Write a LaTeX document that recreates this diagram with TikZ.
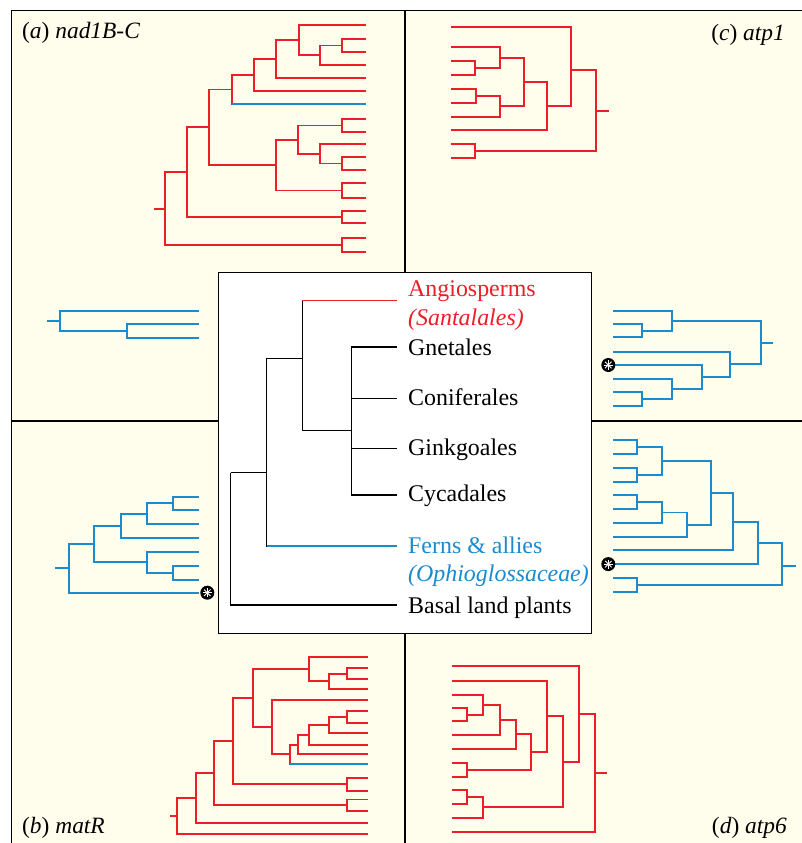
\documentclass[tikz,border=0pt]{standalone}
\usepackage{fontspec}
\setmainfont{Liberation Serif}
\usetikzlibrary{calc}
\definecolor{tred}{RGB}{236,30,40}
\definecolor{tblue}{RGB}{28,139,206}
\definecolor{cream}{RGB}{255,253,235}
\begin{document}
\begin{tikzpicture}[x=1bp,y=-1bp,
  redl/.style={tred,line width=1.9bp},
  bluel/.style={tblue,line width=1.9bp},
  ctree/.style={black,line width=1.5bp},
  clabel/.style={anchor=base west,inner sep=0pt,font=\fontsize{24}{28}\selectfont},
  plabel/.style={inner sep=0pt,font=\fontsize{23.5}{28}\selectfont},
  astmark/.style={circle,fill=black,minimum size=14bp,inner sep=0pt,
    path picture={\foreach \a in {0,45,90,135}
      \draw[white,line width=0.9bp] ($(path picture bounding box.center)+(\a:4.6bp)$) -- ($(path picture bounding box.center)+(\a+180:4.6bp)$);}}
]
\useasboundingbox (0,0) rectangle (802,843);
\fill[white] (0,0) rectangle (802,843);
\fill[cream] (11.5,10.5) rectangle (802,843);
\draw[line width=1.6bp] (11.5,843) -- (11.5,10.5) -- (802,10.5);
\draw[line width=2.2bp] (405,10.5) -- (405,843);
\draw[line width=2.2bp] (11.5,421) -- (802,421);

% ---------- panel labels ----------
\node[plabel,anchor=base west] (la) at (22,38.5) {(\textit{a}) \textit{nad1B-C}};
\node[plabel,anchor=base east] (lc) at (785,40) {(\textit{c}) \textit{atp1}};
\node[plabel,anchor=base west] (lb) at (22,833) {(\textit{b}) \textit{matR}};
\node[plabel,anchor=base east] (ld) at (787,833) {(\textit{d}) \textit{atp6}};

% ---------- tree (a) red ----------
\foreach \n/\y in {1/25,2/39,3/52,4/65,5/78,6/91,7/104,8/119,9/132,10/144,11/157,12/170,13/183,14/198,15/211,16/223,17/238,18/252}
  \coordinate (a\n) at (366,\y);
\coordinate (A1) at (342,45.5);
\coordinate (A2) at (320,55.25);
\coordinate (A3) at (299,40.1);
\coordinate (A4) at (275.7,59);
\coordinate (A5) at (254,75);
\coordinate (A6) at (232,89.5);
\coordinate (A7) at (342,125.5);
\coordinate (A8) at (342,163.5);
\coordinate (A9) at (320,153.75);
\coordinate (A10) at (298,139.6);
\coordinate (A11) at (342,190.5);
\coordinate (A12) at (275.7,165);
\coordinate (A13) at (209,127.3);
\coordinate (A14) at (342,217);
\coordinate (A15) at (187,172.1);
\coordinate (A16) at (342,245);
\coordinate (A17) at (165,208.6);
\coordinate (Ar) at (154,208.6);
\foreach \p/\c in {A1/a2,A1/a3,A2/A1,A2/a4,A3/a1,A3/A2,A4/A3,A4/a5,A5/A4,A5/a6,A6/A5,A6/a7,
  A7/a8,A7/a9,A8/a11,A8/a12,A9/a10,A9/A8,A10/A7,A10/A9,A11/a13,A11/a14,A12/A10,A12/A11,
  A13/A6,A13/A12,A14/a15,A14/a16,A15/A13,A15/A14,A16/a17,A16/a18,A17/A15,A17/A16}
  \draw[redl] (\p) |- (\c);
\draw[redl] (Ar) -- (A17);
\draw[bluel] (A6 |- a7) -- (a7);

% ---------- tree (a) blue ----------
\coordinate (ab1) at (199,310.7);
\coordinate (ab2) at (199,324.3);
\coordinate (ab3) at (199,337.7);
\coordinate (AB1) at (127.3,331);
\coordinate (AB2) at (60.3,320.8);
\coordinate (ABr) at (47.3,320.8);
\foreach \p/\c in {AB1/ab2,AB1/ab3,AB2/ab1,AB2/AB1}
  \draw[bluel] (\p) |- (\c);
\draw[bluel] (ABr) -- (AB2);

% ---------- tree (c) red ----------
\foreach \n/\y in {1/27,2/47.3,3/60.7,4/75,5/88.7,6/102.7,7/116.7,8/130.3,9/143.7,10/158}
  \coordinate (c\n) at (451,\y);
\coordinate (C1) at (475,67.9);
\coordinate (C2) at (499.7,57.6);
\coordinate (C3) at (475.7,95.7);
\coordinate (C4) at (500,106.2);
\coordinate (C5) at (524.3,81.9);
\coordinate (C6) at (546.7,106.1);
\coordinate (C7) at (571.3,70);
\coordinate (C8) at (475,150.85);
\coordinate (C9) at (596,111);
\coordinate (Cr) at (609.3,111);
\foreach \p/\c in {C1/c3,C1/c4,C2/c2,C2/C1,C3/c5,C3/c6,C4/C3,C4/c7,C5/C2,C5/C4,
  C6/C5,C6/c8,C7/c1,C7/C6,C8/c9,C8/c10,C9/C7,C9/C8}
  \draw[redl] (\p) |- (\c);
\draw[redl] (Cr) -- (C9);

% ---------- tree (c) blue ----------
\foreach \n/\y in {1/310.7,2/324,3/337.3,4/351.7,5/365,6/379,7/392.3,8/405.7}
  \coordinate (cb\n) at (612.7,\y);
\coordinate (CB1) at (641.7,330.65);
\coordinate (CB2) at (671.7,320.7);
\coordinate (CB3) at (641.7,399);
\coordinate (CB4) at (671.7,389);
\coordinate (CB5) at (702.3,377);
\coordinate (CB6) at (730,364.3);
\coordinate (CB7) at (761,343);
\coordinate (CBr) at (773.3,343);
\foreach \p/\c in {CB1/cb2,CB1/cb3,CB2/cb1,CB2/CB1,CB3/cb7,CB3/cb8,CB4/cb6,CB4/CB3,
  CB5/cb5,CB5/CB4,CB6/cb4,CB6/CB5,CB7/CB2,CB7/CB6}
  \draw[bluel] (\p) |- (\c);
\draw[bluel] (CBr) -- (CB7);
\node[astmark] (sc) at (608.3,365) {};

% ---------- tree (d) blue ----------
\foreach \n/\y in {1/440.3,2/454.1,3/467.8,4/481.6,5/495.3,6/509.1,7/522.9,8/536.6,9/550.4,10/564.1,11/577.9,12/591.7}
  \coordinate (db\n) at (612.7,\y);
\coordinate (DB1) at (637.3,447.2);
\coordinate (DB2) at (637.3,474.7);
\coordinate (DB3) at (662.3,461);
\coordinate (DB4) at (636.7,502.2);
\coordinate (DB5) at (662.3,512.5);
\coordinate (DB6) at (686.7,524.6);
\coordinate (DB7) at (710.7,492.8);
\coordinate (DB8) at (733.3,521.6);
\coordinate (DB9) at (757.7,542.9);
\coordinate (DB10) at (637.3,584.8);
\coordinate (DB11) at (781.7,566);
\coordinate (DBr) at (796,566);
\foreach \p/\c in {DB1/db1,DB1/db2,DB2/db3,DB2/db4,DB3/DB1,DB3/DB2,DB4/db5,DB4/db6,
  DB5/DB4,DB5/db7,DB6/DB5,DB6/db8,DB7/DB3,DB7/DB6,DB8/DB7,DB8/db9,DB9/DB8,DB9/db10,
  DB10/db11,DB10/db12,DB11/DB9,DB11/DB10}
  \draw[bluel] (\p) |- (\c);
\draw[bluel] (DBr) -- (DB11);
\node[astmark] (sd) at (608.3,564.1) {};

% ---------- tree (b) blue ----------
\foreach \n/\y in {1/496.7,2/510,3/524,4/538.3,5/551.7,6/566,7/580,8/592.7}
  \coordinate (bb\n) at (199.3,\y);
\coordinate (BB1) at (173.3,503.35);
\coordinate (BB2) at (147.3,513.7);
\coordinate (BB3) at (120.7,526);
\coordinate (BB4) at (173.3,573);
\coordinate (BB5) at (146.7,562.35);
\coordinate (BB6) at (94.3,544.2);
\coordinate (BB7) at (68.7,568.4);
\coordinate (BBr) at (55,568.4);
\foreach \p/\c in {BB1/bb1,BB1/bb2,BB2/BB1,BB2/bb3,BB3/BB2,BB3/bb4,BB4/bb6,BB4/bb7,
  BB5/bb5,BB5/BB4,BB6/BB3,BB6/BB5,BB7/BB6,BB7/bb8}
  \draw[bluel] (\p) |- (\c);
\draw[bluel] (BBr) -- (BB7);
\node[astmark] (sb) at (207.3,592.7) {};

% ---------- tree (b) red ----------
\foreach \n/\y in {1/657,2/668.3,3/679,4/689,5/700,6/711,7/723,8/733,9/745,10/754.3,11/763.7,12/777.7,13/791,14/799.5,15/811,16/822.7,17/833.7}
  \coordinate (br\n) at (367.7,\y);
\coordinate (BR1) at (347.3,673.65);
\coordinate (BR2) at (329,681.3);
\coordinate (BR3) at (309.3,669.2);
\coordinate (BR4) at (347.3,717);
\coordinate (BR5) at (329,725);
\coordinate (BR6) at (309.3,735);
\coordinate (BR7) at (297.7,744.7);
\coordinate (BR8) at (290,754.2);
\coordinate (BR9) at (272.3,727.1);
\coordinate (BR10) at (253.3,698.1);
\coordinate (BR11) at (347.3,784.3);
\coordinate (BR12) at (232.7,741.2);
\coordinate (BR13) at (347.3,805.25);
\coordinate (BR14) at (214.3,773.2);
\coordinate (BR15) at (195.7,798);
\coordinate (BR16) at (176.7,815.8);
\coordinate (BRr) at (170,815.8);
\foreach \p/\c in {BR1/br2,BR1/br3,BR2/BR1,BR2/br4,BR3/br1,BR3/BR2,BR4/br6,BR4/br7,
  BR5/BR4,BR5/br8,BR6/BR5,BR6/br9,BR7/BR6,BR7/br10,BR8/BR7,BR8/br11,BR9/br5,BR9/BR8,
  BR10/BR3,BR10/BR9,BR11/br12,BR11/br13,BR12/BR10,BR12/BR11,BR13/br14,BR13/br15,
  BR14/BR12,BR14/BR13,BR15/BR14,BR15/br16,BR16/BR15,BR16/br17}
  \draw[redl] (\p) |- (\c);
\draw[redl] (BRr) -- (BR16);
\draw[bluel] (BR8 |- br11) -- (br11);

% ---------- tree (d) red ----------
\foreach \n/\y in {1/666,2/680.7,3/694.7,4/708.3,5/721.3,6/734.7,7/749,8/762.7,9/777,10/790,11/804,12/817.7,13/832}
  \coordinate (dr\n) at (451.7,\y);
\coordinate (DR1) at (467,714.8);
\coordinate (DR2) at (483,704.75);
\coordinate (DR3) at (499.7,719.7);
\coordinate (DR4) at (516,734.4);
\coordinate (DR5) at (466.7,769.85);
\coordinate (DR6) at (531.3,752.1);
\coordinate (DR7) at (547.3,716.4);
\coordinate (DR8) at (466.7,797);
\coordinate (DR9) at (482.7,807.35);
\coordinate (DR10) at (563.3,761.9);
\coordinate (DR11) at (579,714);
\coordinate (DR12) at (594.7,773);
\coordinate (DRr) at (607.3,773);
\foreach \p/\c in {DR1/dr4,DR1/dr5,DR2/dr3,DR2/DR1,DR3/DR2,DR3/dr6,DR4/DR3,DR4/dr7,
  DR5/dr8,DR5/dr9,DR6/DR4,DR6/DR5,DR7/dr2,DR7/DR6,DR8/dr10,DR8/dr11,DR9/DR8,DR9/dr12,
  DR10/DR7,DR10/DR9,DR11/dr1,DR11/DR10,DR12/DR11,DR12/dr13}
  \draw[redl] (\p) |- (\c);
\draw[redl] (DRr) -- (DR12);

% ---------- central box ----------
\node[draw,fill=white,line width=1.4bp,minimum width=373bp,minimum height=361bp,inner sep=0pt] (box) at (405,452.8) {};
\coordinate (ang) at (396.7,300.7);
\coordinate (gne) at (396.7,347);
\coordinate (con) at (396.7,398.3);
\coordinate (gin) at (396.7,448.3);
\coordinate (cyc) at (396.7,495);
\coordinate (fer) at (396.7,546);
\coordinate (bas) at (396.7,605);
\coordinate (G1) at (351.7,430.7);
\coordinate (S1) at (302.3,358.3);
\coordinate (V1) at (266.7,472.7);
\coordinate (R1) at (230.7,472.7);
\foreach \c in {gne,con,gin,cyc} \draw[ctree] (G1) |- (\c);
\draw[ctree] (S1) |- (G1);
\draw[ctree] (S1) |- (ang);
\draw[ctree,tred] (S1 |- ang) -- (ang);
\draw[ctree] (V1) |- (S1);
\draw[ctree] (V1) |- (fer);
\draw[ctree,tblue] (V1 |- fer) -- (fer);
\draw[ctree] (R1) -- (V1);
\draw[ctree] (R1) |- (bas);

\node[clabel,text=tred] (tang) at (408,296) {Angiosperms};
\node[clabel,text=tred] (tsan) at (408,325) {\textit{(Santalales)}};
\node[clabel] (tgne) at (408,355.5) {Gnetales};
\node[clabel] (tcon) at (408,405) {Coniferales};
\node[clabel] (tgin) at (408,455) {Ginkgoales};
\node[clabel] (tcyc) at (408,501.5) {Cycadales};
\node[clabel,text=tblue] (tfer) at (408,553.3) {Ferns \& allies};
\node[clabel,text=tblue] (toph) at (408,581.7) {\textit{(Ophioglossaceae)}};
\node[clabel] (tbas) at (408,613.3) {Basal land plants};
\end{tikzpicture}
\end{document}
